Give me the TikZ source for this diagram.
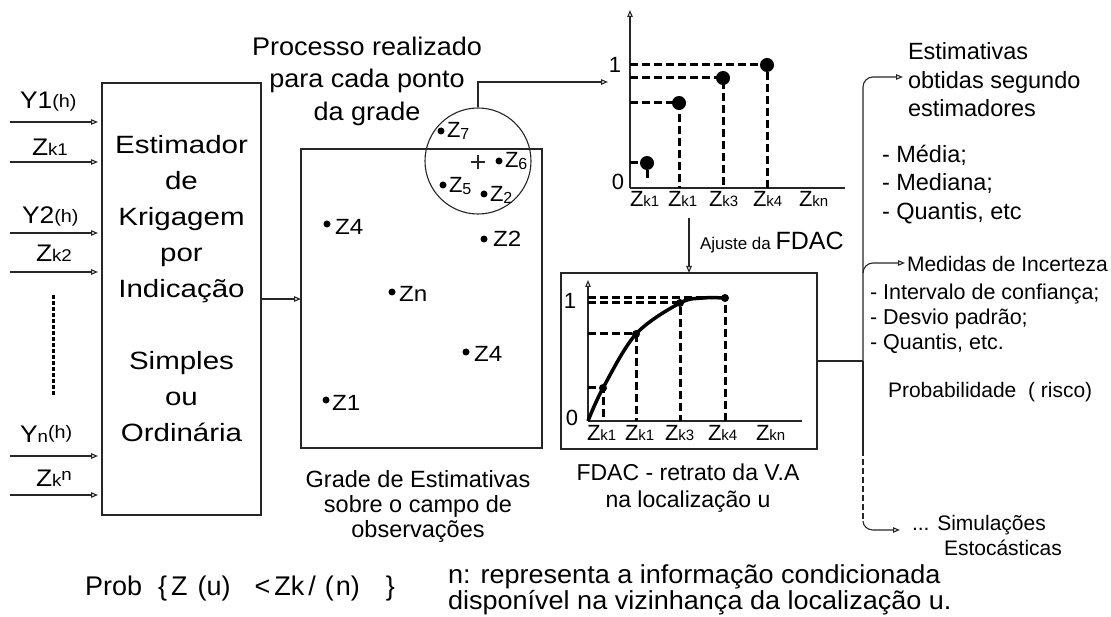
\documentclass[tikz,border=0pt]{standalone}
\usepackage{fontspec}
\setmainfont{Liberation Sans}
\usetikzlibrary{arrows.meta}
\newcommand\fsz[1]{\fontsize{#1}{#1}\selectfont}
\begin{document}
\setlength{\lineskiplimit}{-50pt}
\begin{tikzpicture}[x=1pt,y=-1pt,
  ln/.style={line width=1.1pt,black!85},
  arr/.style={ln,-{Triangle[open,length=7pt,width=5.5pt]}},
  chartdash/.style={line width=3pt,dash pattern=on 8pt off 4pt},
  bigdot/.style={circle,fill,inner sep=0pt,minimum size=14pt},
  smdot/.style={circle,fill,inner sep=0pt,minimum size=8pt},
  gdot/.style={circle,fill,inner sep=0pt,minimum size=7pt},
  lb/.style={inner sep=0pt,outer sep=0pt},
  box/.style={draw,ln,inner sep=0pt,outer sep=0pt}]
\useasboundingbox (0,0) rectangle (1111,617);
\fill[white] (0,0) rectangle (1111,617);

% ---- estimator box and inputs
\node[box,minimum width=159pt,minimum height=432pt] (kbox) at (181.5,299) {};
\node[lb,align=center,font=\fontsize{25}{36}\selectfont,xscale=1.18] (ktxt) at (181.5,289)
  {Estimador\\de\\Krigagem\\por\\Indicação\\[36pt]Simples\\ou\\Ordinária};
\foreach \n/\y in {1/122,2/162,3/233,4/272,5/456,6/495}{
  \coordinate (i\n) at (10,\y);
  \draw[arr,shorten >=4pt] (i\n) -- (i\n -| kbox.west);
}
\node[lb,anchor=base west,xscale=1.1] (ly1) at (20,109) {\fsz{24}Y1\fsz{18}\raisebox{1pt}{(h)}};
\node[lb,anchor=base west,xscale=1.1] (lz1) at (32,156) {\fsz{24}Z\fsz{17}k1};
\node[lb,anchor=base west,xscale=1.1] (ly2) at (22,224) {\fsz{24}Y2\fsz{18}\raisebox{1pt}{(h)}};
\node[lb,anchor=base west,xscale=1.1] (lz2) at (36,262) {\fsz{24}Z\fsz{17}k2};
\node[lb,anchor=base west,xscale=1.1] (lyn) at (20,442) {\fsz{24}Y\fsz{17}n\fsz{18}\raisebox{3pt}{(h)}};
\node[lb,anchor=base west,xscale=1.1] (lzn) at (36,486) {\fsz{24}Z\fsz{17}k\raisebox{6pt}{n}};
\draw[line width=3pt,dash pattern=on 4pt off 2pt] (53,295) -- (53,395);

% ---- grid of estimates
\node[box,minimum width=241pt,minimum height=299pt] (grid) at (421.5,298.5) {};
\draw[arr] (kbox.east) -- (kbox.east -| grid.west);
\foreach \nm/\dx/\dy/\lx/\ly/\t in {a/327/224/335/235/Z4,b/484/239/493/247/Z2,c/392/292/399/302/Zn,d/466/352/474/362/Z4,e/326/400/332/410/Z1}{
  \node[gdot] (d\nm) at (\dx,\dy) {};
  \node[lb,anchor=base west,xscale=1.1,font=\fsz{22}] (t\nm) at (\lx,\ly) {\t};
}
\node[draw,ln,circle,minimum size=106pt,inner sep=0pt] (circ) at (478,161) {};
\coordinate (cc) at (478,162);
\draw[ln] ([xshift=-7pt]cc) -- ([xshift=7pt]cc) ([yshift=-7pt]cc) -- ([yshift=7pt]cc);
\foreach \nm/\dx/\dy/\lx/\ly/\s in {7/441/131/447/138/7,6/499/161/505/168/6,5/443/185/449/193/5,2/484/194/490/202/2}{
  \node[gdot] (c\nm) at (\dx,\dy) {};
  \node[lb,anchor=base west,font=\fsz{22}] (ct\nm) at (\lx,\ly) {Z\raisebox{-2pt}{\fsz{16}\s}};
}
\node[lb,align=center,font=\fontsize{25.5}{32.5}\selectfont,xscale=1.06] (proc) at (367,81)
  {Processo realizado\\para cada ponto\\da grade};
\node[lb,align=center,font=\fontsize{23.5}{25}\selectfont] (gcap) at (418,506)
  {Grade de Estimativas\\sobre o campo de\\observações};
\coordinate (tc) at (608,82);
\draw[arr] (circ.north) |- (tc);

% ---- top chart
\coordinate (o1) at (630,188);
\draw[arr] (o1) -- (630,10);
\draw[ln] (o1) -- (845,188);
\node[lb,font=\fsz{22}] (one1) at (615,65) {1};
\node[lb,font=\fsz{22}] (zero1) at (618,182) {0};
\foreach \nm/\px/\py/\by in {1/647/163/182,2/679/103/188,3/723/78/188,4/767/65/188}{
  \node[bigdot] (p\nm) at (\px,\py) {};
  \draw[chartdash] (630,\py) -- (p\nm.center) -- (\px,\by);
}
\foreach \nm/\lx/\s in {1/630/k1,2/668/k1,3/709/k3,4/753/k4,5/799/kn}
  \node[lb,anchor=base west] (za\nm) at (\lx,207) {\fsz{22}Z\fsz{15}\s};

% ---- adjustment arrow and bottom chart
\coordinate (aj) at (689,218);
\node[box,minimum width=256pt,minimum height=176pt] (fbox) at (689,361) {};
\draw[arr] (aj) -- (fbox.north);
\node[lb,anchor=base west] (ajt) at (700,250) {\fsz{17}Ajuste da \fsz{25}FDAC};
\coordinate (o2) at (588,421);
\draw[arr] (o2) -- (588,280);
\draw[ln] (o2) -- (802,421);
\node[lb,font=\fsz{22}] (one2) at (570,301) {1};
\node[lb,font=\fsz{22}] (zero2) at (572,418) {0};
\foreach \nm/\px/\py in {1/603/388,2/636/334,3/680/303,4/725/298}{
  \node[smdot] (q\nm) at (\px,\py) {};
  \draw[chartdash] (588,\py) -- (q\nm.center) -- (\px,421);
}
\draw[line width=3.5pt] plot[smooth,tension=0.55] coordinates {(588,421) (603,388) (636,334) (680,303) (703,298) (725,298)};
\foreach \nm/\lx/\s in {1/587/k1,2/625/k1,3/665/k3,4/708/k4,5/756/kn}
  \node[lb,anchor=base west] (zb\nm) at (\lx,440) {\fsz{22}Z\fsz{15}\s};
\node[lb,align=center,font=\fontsize{23}{27}\selectfont] (fcap) at (688,488)
  {FDAC - retrato da V.A\\na localização u};

% ---- right bracket
\coordinate (bj) at (863,361);
\coordinate (e1) at (903,77);
\coordinate (e2) at (905,263);
\coordinate (e3) at (900,530);
\draw[ln] (fbox.east) -- (bj);
\draw[arr] (bj) -- (863,87) to[out=90,in=180] (873,77) -- (e1);
\draw[arr] (863,273) to[out=90,in=180] (873,263) -- (e2);
\draw[ln] (bj) -- (863,450);
\draw[ln,dash pattern=on 6pt off 3pt] (863,450) -- (863,521);
\draw[arr] (863,521) to[out=-90,in=180] (873,530) -- (e3);

\node[lb,align=left,anchor=west,font=\fontsize{23.5}{28.5}\selectfont] (est) at (908,80)
  {Estimativas\\obtidas segundo\\estimadores};
\node[lb,align=left,anchor=west,font=\fontsize{23.5}{28.5}\selectfont] (med) at (882,184.5)
  {- Média;\\- Mediana;\\- Quantis, etc};
\node[lb,anchor=base west,font=\fsz{21}] (inc) at (907,272) {Medidas de Incerteza};
\node[lb,align=left,anchor=west,font=\fontsize{21.5}{25}\selectfont] (unc) at (870,318.7)
  {- Intervalo de confiança;\\- Desvio padrão;\\- Quantis, etc.};
\node[lb,anchor=base west,font=\fsz{21}] (prb) at (888,398) {Probabilidade\ \ ( risco)};
\node[lb,anchor=base west,font=\fsz{21}] (sim) at (912,530) {... Simulações};
\node[lb,anchor=base west,font=\fsz{21}] (sto) at (944,555) {Estocásticas};

% ---- bottom formula and note
\node[lb,anchor=base west,font=\fsz{27}] (prob) at (85,595)
  {Prob\hspace{16pt}\{\hspace{4pt}Z\hspace{10pt}(u)\hspace{24pt}<\hspace{4pt}Zk\hspace{4pt}/\hspace{9pt}(\hspace{2pt}n)\hspace{26pt}\}};
\node[lb,anchor=base west,font=\fsz{26},xscale=1.04] (info1) at (448,583) {n: representa a informação condicionada};
\node[lb,anchor=base west,font=\fsz{26},xscale=1.04] (info2) at (448,609) {disponível na vizinhança da localização u.};
\end{tikzpicture}
\end{document}
